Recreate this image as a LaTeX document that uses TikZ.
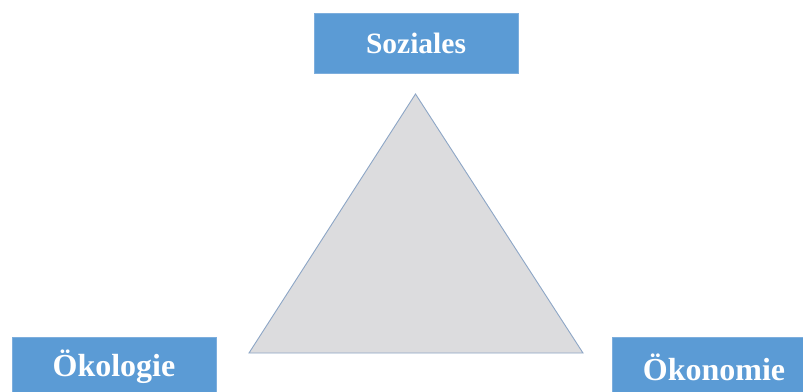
\documentclass[tikz,border=0pt]{standalone}
\usepackage{fontspec}
\setmainfont{Liberation Serif}
\usetikzlibrary{positioning}

\definecolor{pillarblue}{HTML}{5B9BD5}
\definecolor{pillaredge}{HTML}{7DAEDD}
\definecolor{trifill}{HTML}{DCDCDE}
\definecolor{triedge}{HTML}{8DA6C6}

\begin{document}
\begin{tikzpicture}[x=1pt,y=-1pt,
  pillar/.style={fill=pillarblue,draw=pillaredge,line width=.6pt,
    minimum width=204pt,minimum height=60pt,inner sep=0pt,
    text=white,font=\bfseries},
  dreieck/.style={fill=trifill,draw=triedge,line width=.9pt,line join=miter}]
\useasboundingbox (0,0) rectangle (803,391);
\clip (0,0) rectangle (803,391);
\fill[white] (0,0) rectangle (803,391);
% Nachhaltigkeitsdreieck
\coordinate (spitze) at (415.5,94);
\coordinate (links) at (249,353);
\coordinate (rechts) at (583,353);
\draw[dreieck] (spitze)--(rechts)--(links)--cycle;
% die drei Saeulen
\node[pillar,font=\bfseries\fontsize{29.5}{32}\selectfont] (soziales) at (416,43) {Soziales};
\node[pillar,font=\bfseries\fontsize{32}{34}\selectfont] (oekologie) at (114,367) {Ökologie};
\node[pillar,font=\bfseries\fontsize{32}{34}\selectfont] (oekonomie) at (714,367) {Ökonomie};
\end{tikzpicture}
\end{document}
